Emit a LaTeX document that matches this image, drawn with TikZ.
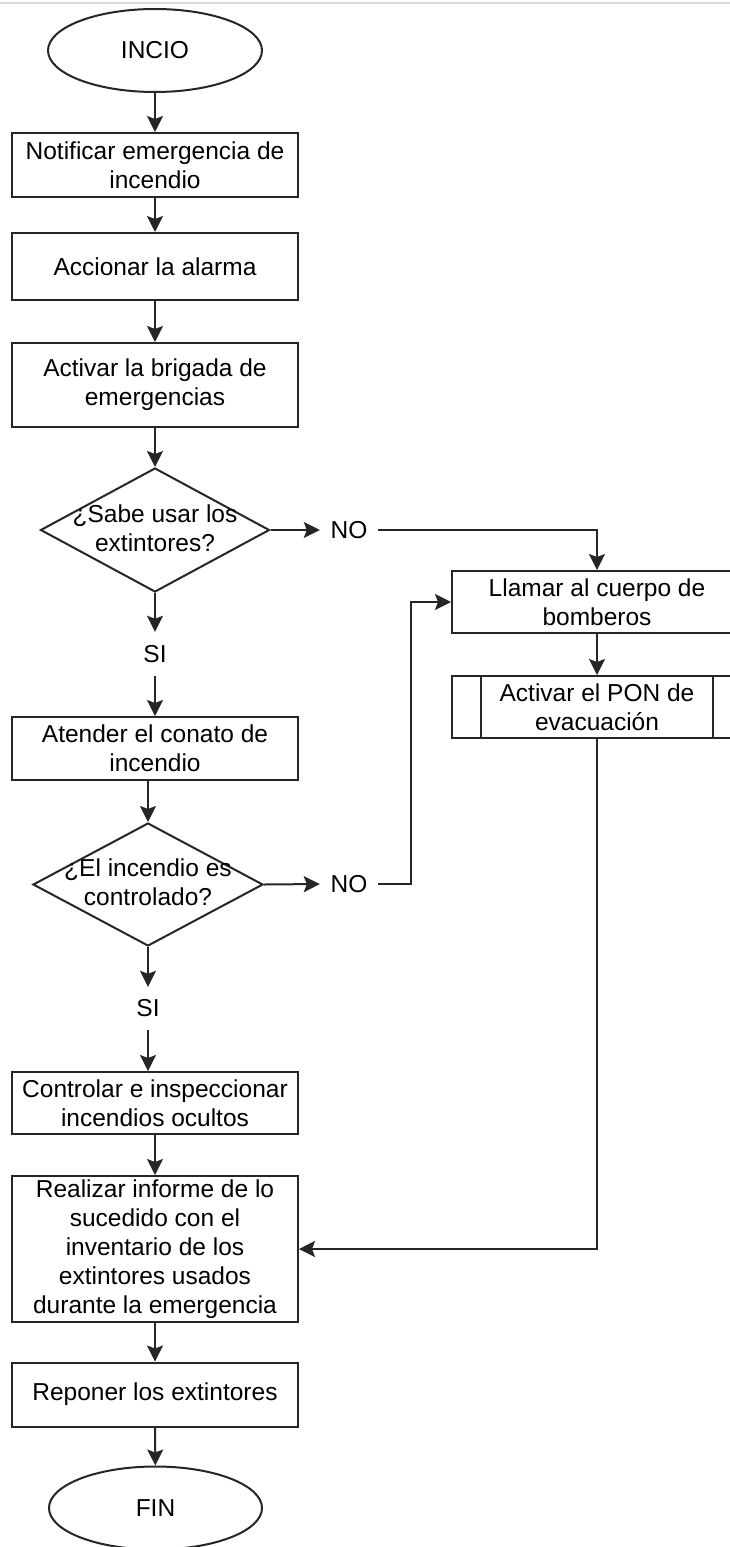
\documentclass[tikz,border=0pt]{standalone}
\usepackage{fontspec}
\setmainfont{Liberation Sans}
\usetikzlibrary{shapes.geometric,arrows.meta,calc}
\begin{document}
\begin{tikzpicture}[x=1pt,y=-1pt,
  every node/.style={font=\fontsize{24.5}{29}\selectfont, text=black},
  box/.style={draw=black!85, line width=2pt, rectangle, minimum width=286pt, align=center, inner sep=0pt, fill=white},
  term/.style={draw=black!85, line width=2pt, ellipse, minimum width=214pt, minimum height=83pt, inner sep=0pt},
  dia/.style={draw=black!85, line width=2pt, diamond, minimum width=229pt, minimum height=124pt, inner sep=0pt},
  lbl/.style={inner sep=0pt, align=center},
  arr/.style={draw=black!85, line width=2pt, -{Stealth[length=16pt,width=16pt,inset=3pt]}},
  ln/.style={draw=black!85, line width=2pt}
]
\useasboundingbox (0,0) rectangle (730,1547);
\clip (0,0) rectangle (730,1547);
\fill[white] (0,0) rectangle (730,1547);
\draw[gray!30, line width=2pt] (0,3) -- (730,3);

\node[term] (start) at (155,50.5) {INCIO};
\node[box, minimum height=64pt] (b1) at (155,165) {Notificar emergencia de\\incendio};
\node[box, minimum height=67pt] (b2) at (155,266.5) {Accionar la alarma};
\node[box, minimum height=84pt] (b3) at (155,385) {Activar la brigada de\\emergencias};
\node[dia] (d1) at (155,530) {};
\node[lbl] (d1t) at (155,528) {¿Sabe usar los\\extintores?};
\node[lbl, minimum width=58pt, minimum height=30pt] (no1) at (349,530) {NO};
\node[lbl, minimum height=44pt] (si1) at (155,654) {SI};
\node[box, minimum height=63pt] (b4) at (155,748.5) {Atender el conato de\\incendio};
\node[dia, minimum width=230pt, minimum height=123pt] (d2) at (148,884.5) {};
\node[lbl] (d2t) at (148,882) {¿El incendio es\\controlado?};
\node[lbl, minimum width=58pt, minimum height=30pt] (no2) at (349,884) {NO};
\node[lbl, minimum height=43pt] (si2) at (148,1008.5) {SI};
\node[box, minimum height=62pt] (b7) at (155,1103) {Controlar e inspeccionar\\incendios ocultos};
\node[box, minimum height=146pt] (b8) at (155,1249) {Realizar informe de lo\\sucedido con el\\inventario de los\\extintores usados\\durante la emergencia};
\node[box, minimum height=64pt] (b9) at (155,1394.5) {Reponer los extintores};
\node[term, minimum width=213pt] (end) at (155.5,1508) {FIN};
\node[box, minimum width=290pt, minimum height=62pt] (b5) at (597,602) {Llamar al cuerpo de\\bomberos};
\node[box, minimum width=290pt, minimum height=62pt] (b6) at (597,707) {Activar el PON de\\evacuación};
\draw[ln] ([xshift=30pt]b6.north west) -- ([xshift=30pt]b6.south west);
\draw[ln] ([xshift=-30pt]b6.north east) -- ([xshift=-30pt]b6.south east);
\coordinate (j2) at ($(no2.east)+(33,0)$);

\draw[arr] (start) -- (b1);
\draw[arr] (b1) -- (b2);
\draw[arr] (b2) -- (b3);
\draw[arr] (b3) -- (d1);
\draw[arr] (d1.east) -- (no1.west);
\draw[arr] (no1.east) -| (b5.north);
\draw[arr] (b5) -- (b6);
\draw[arr] (d1.south) -- (si1.north);
\draw[arr] (si1.south) -- (b4.north);
\draw[arr] (b4.south -| d2.north) -- (d2.north);
\draw[arr] (d2.east) -- (no2.west);
\draw[arr] (no2.east) -- (j2) |- (b5.west);
\draw[arr] (d2.south) -- (si2.north);
\draw[arr] (si2.south) -- (si2.south |- b7.north);
\draw[arr] (b7) -- (b8);
\draw[arr] (b6.south) |- (b8.east);
\draw[arr] (b8) -- (b9);
\draw[arr] (b9) -- (end);
\end{tikzpicture}
\end{document}
